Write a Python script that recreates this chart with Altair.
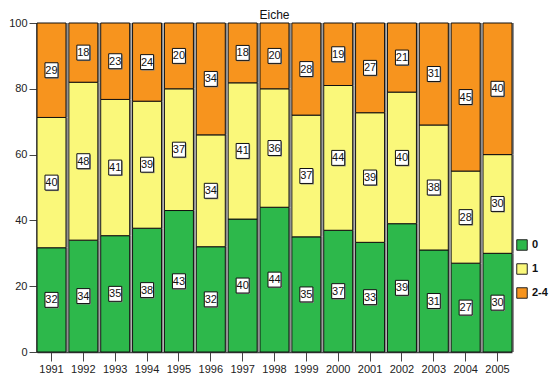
import altair as alt
import pandas as pd

years = [str(y) for y in range(1991, 2006)]
cats = ["0", "1", "2-4"]
v0 = [32, 34, 35, 38, 43, 32, 40, 44, 35, 37, 33, 39, 31, 27, 30]
v1 = [40, 48, 41, 39, 37, 34, 41, 36, 37, 44, 39, 40, 38, 28, 30]
v2 = [29, 18, 23, 24, 20, 34, 18, 20, 28, 19, 27, 21, 31, 45, 40]
colors = ["#2db84b", "#faf87a", "#f7941e"]
title_text = "Eiche"

rows = []
for i, y in enumerate(years):
    for k, (c, vals) in enumerate(zip(cats, [v0, v1, v2])):
        rows.append({"year": y, "cat": c, "ord": k, "val": vals[i]})
df = pd.DataFrame(rows)

FONT = "Liberation Sans"

base = alt.Chart(df).transform_joinaggregate(
    tot="sum(val)", groupby=["year"]
).transform_calculate(
    pct="100 * datum.val / datum.tot"
).transform_stack(
    stack="pct", groupby=["year"], as_=["y0", "y1"], sort=[alt.SortField("ord", order="ascending")]
).transform_calculate(
    mid="(datum.y0 + datum.y1) / 2"
)

xenc = alt.X("year:N", title=None,
             scale=alt.Scale(paddingInner=0.09, paddingOuter=0),
             axis=alt.Axis(labelAngle=0, labelFontSize=11, labelColor="#222",
                           labelFont=FONT, tickSize=9, tickColor="#444",
                           domainColor="#444", domainWidth=1.5, labelPadding=2))
yscale = alt.Scale(domain=[0, 100], nice=False)
yenc = alt.Y("y0:Q", title=None, scale=yscale,
             axis=alt.Axis(values=[0, 20, 40, 60, 80, 100], grid=False,
                           labelFontSize=11, labelColor="#222", labelFont=FONT,
                           tickSize=8, tickColor="#444", domainColor="#444",
                           domainWidth=2.5, labelPadding=2))

shadow = base.mark_bar(color="#909090", xOffset=2).encode(
    x=xenc, y=yenc, y2="y1:Q"
)

bars = base.mark_bar(stroke="#111", strokeWidth=1).encode(
    x=xenc,
    y=yenc,
    y2="y1:Q",
    color=alt.Color("cat:N", scale=alt.Scale(domain=cats, range=colors),
                    legend=alt.Legend(title=None, orient="none", legendX=479, legendY=216,
                                      symbolType="square", symbolSize=110,
                                      symbolStrokeColor="#222", symbolStrokeWidth=1,
                                      symbolOpacity=1,
                                      labelFontWeight="bold", labelFontSize=11,
                                      labelFont=FONT, labelColor="#111",
                                      rowPadding=8, labelOffset=4)),
    order=alt.Order("ord:Q"),
)

box_path = "M-1,-1.15L1,-1.15L1,1.15L-1,1.15Z"
box_shadow = base.mark_point(shape=box_path, size=169, filled=True, fill="#888",
                             opacity=1, xOffset=1, yOffset=1).encode(
    x=alt.X("year:N"), y=alt.Y("mid:Q", scale=yscale)
)
boxes = base.mark_point(shape=box_path, size=169, filled=True, fill="white",
                        stroke="#111", strokeWidth=1, opacity=1).encode(
    x=alt.X("year:N"), y=alt.Y("mid:Q", scale=yscale)
)
texts = base.mark_text(fontSize=11, font=FONT, color="#111", baseline="middle", dy=0.5).encode(
    x=alt.X("year:N"), y=alt.Y("mid:Q", scale=yscale), text="val:Q"
)

title = alt.Chart(pd.DataFrame({"t": [title_text]})).mark_text(
    fontSize=12, font=FONT, color="#111", baseline="middle", align="center"
).encode(x=alt.value(237.5), y=alt.value(-8), text="t:N")

chart = alt.layer(shadow, bars, box_shadow, boxes, texts, title).properties(
    width=475, height=329,
    autosize=alt.AutoSizeParams(type="none"),
    padding={"left": 29, "top": 15, "right": 39, "bottom": 23},
).configure_view(stroke=None)

chart.save("out.html", embed_options={"renderer": "svg", "actions": False})
